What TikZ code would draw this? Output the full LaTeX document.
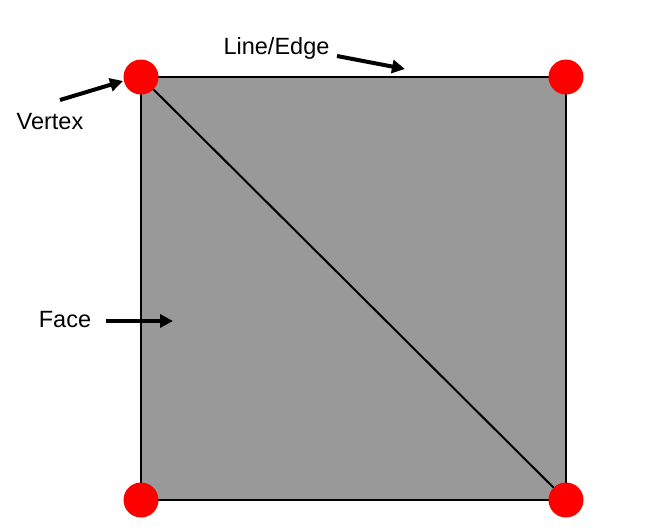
\documentclass[tikz,border=0pt]{standalone}
\usepackage{fontspec}
\setmainfont{Liberation Sans}
\usetikzlibrary{arrows.meta}
\begin{document}
\begin{tikzpicture}[x=1pt,y=-1pt,
  vtx/.style={circle,fill=red,minimum size=35pt,inner sep=0pt},
  lbl/.style={font=\fontsize{23.5}{27}\selectfont,inner sep=0pt},
  pointer/.style={line width=4pt,-{Triangle[length=13pt,width=13pt]}}]
\useasboundingbox (0,0) rectangle (656,531);
\coordinate (A) at (141,77);
\coordinate (B) at (566,77);
\coordinate (C) at (566,500);
\coordinate (D) at (141,500);
\filldraw[fill=black!40,draw=black,line width=2pt] (A) -- (B) -- (C) -- (D) -- cycle;
\draw[line width=2pt] (A) -- (C);
\node[vtx] (vA) at (A) {};
\node[vtx] (vB) at (B) {};
\node[vtx] (vC) at (C) {};
\node[vtx] (vD) at (D) {};
\node[lbl] (tEdge) at (276.5,48) {Line/Edge};
\node[lbl] (tVertex) at (50,122) {Vertex};
\node[lbl] (tFace) at (65,320) {Face};
\coordinate (eS) at (337,56);
\coordinate (eE) at (405,69);
\coordinate (vS) at (60,100);
\coordinate (vE) at (123,81);
\coordinate (fS) at (106,321);
\coordinate (fE) at (173,321);
\draw[pointer] (eS) -- (eE);
\draw[pointer] (vS) -- (vE);
\draw[pointer] (fS) -- (fE);
\end{tikzpicture}
\end{document}
